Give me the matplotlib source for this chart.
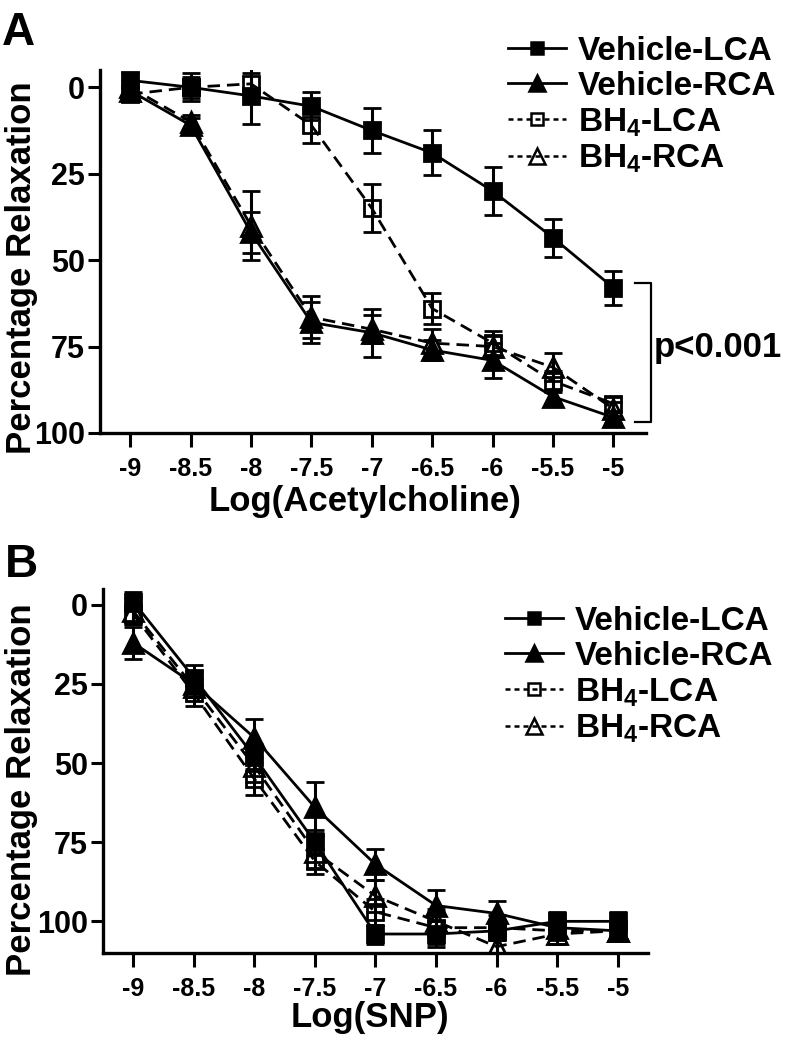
import matplotlib
matplotlib.use("Agg")
import matplotlib.pyplot as plt
from matplotlib.lines import Line2D

plt.rcParams["font.family"] = ["Liberation Sans", "DejaVu Sans"]
plt.rcParams["font.weight"] = "bold"
plt.rcParams["mathtext.fontset"] = "custom"
plt.rcParams["mathtext.rm"] = "Liberation Sans:bold"
plt.rcParams["mathtext.bf"] = "Liberation Sans:bold"

# log concentration
log_conc = [-9, -8.5, -8, -7.5, -7, -6.5, -6, -5.5, -5]

# panel A: acetylcholine (mean, SEM)
ach_veh_lca = [-2, 0, 2.5, 5.5, 12.5, 19, 30, 43.5, 58]
ach_veh_lca_err = [2, 3, 8, 4, 6.5, 6.5, 7, 5.5, 5]
ach_veh_rca = [1, 11, 42, 68, 71, 76, 79, 89.5, 95.5]
ach_veh_rca_err = [2, 2, 6, 6, 7, 3, 5, 2, 1.5]
ach_bh4_lca = [2, 0, -1, 11, 35, 64, 74, 85, 91.5]
ach_bh4_lca_err = [2, 4, 3, 5, 7, 4.5, 3.5, 3, 2]
ach_bh4_rca = [0, 10, 40, 66.5, 70, 74, 75, 81, 93]
ach_bh4_rca_err = [2, 2, 10, 6, 4, 4, 3, 4, 2]

# panel B: SNP
snp_veh_lca = [-1, 23, 48, 75, 104, 104, 103, 100, 100]
snp_veh_lca_err = [3, 4, 4, 4, 3, 4, 3, 3, 3]
snp_veh_rca = [12, 25, 42, 64, 82, 95, 97.5, 102, 103]
snp_veh_rca_err = [5, 4, 6, 8, 5, 5, 4, 4, 3]
snp_bh4_lca = [3, 28, 55, 81, 97, 102, 102, 103, 103]
snp_bh4_lca_err = [3, 4, 5, 4, 4, 5, 4, 4, 3]
snp_bh4_rca = [2, 26, 51, 78, 92, 100, 108, 104, 103]
snp_bh4_rca_err = [4, 3, 5, 5, 5, 4, 3, 3, 3]

labels = ["Vehicle-LCA", "Vehicle-RCA", r"BH$_4$-LCA", r"BH$_4$-RCA"]
styles = [
    dict(marker="s", ms=11, mfc="black", ls="-"),
    dict(marker="^", ms=14, mfc="black", ls="-"),
    dict(marker="s", ms=11, mfc="none", ls=(0, (4.5, 2.5))),
    dict(marker="^", ms=14, mfc="none", ls=(0, (4.5, 2.5))),
]
leg_styles = [
    dict(marker="s", ms=9, mfc="black", ls="-", lw=2.0),
    dict(marker="^", ms=12, mfc="black", ls="-", lw=2.0),
    dict(marker="s", ms=9, mfc="none", ls=(0, (2, 1.6)), lw=1.8),
    dict(marker="^", ms=12, mfc="none", ls=(0, (2, 1.6)), lw=1.8),
]

W, H = 787, 1050
fig = plt.figure(figsize=(W / 100, H / 100), dpi=100)


def draw_panel(ax, series, yticks, ylim, xlim):
    for (y, e), lab, st in zip(series, labels, styles):
        ax.errorbar(log_conc, y, yerr=e, color="black", lw=2.0,
                    elinewidth=2.2, capsize=6.5, capthick=2.2,
                    mec="black", mew=2.0, label=lab, **st)
    ax.set_xlim(*xlim)
    ax.set_ylim(*ylim)
    ax.set_xticks(log_conc)
    ax.set_xticklabels([f"{v:g}" for v in log_conc], fontsize=18, fontweight="bold")
    ax.set_yticks(yticks)
    ax.set_yticklabels([str(v) for v in yticks], fontsize=22, fontweight="bold")
    for s in ["top", "right"]:
        ax.spines[s].set_visible(False)
    for s in ["left", "bottom"]:
        ax.spines[s].set_linewidth(2.4)
    ax.tick_params(axis="x", length=10, width=2.2, pad=7)
    ax.tick_params(axis="y", length=9, width=2.2, pad=2)


axA = fig.add_axes([100 / W, 1 - 433 / H, 546 / W, 363 / H])
serA = [(ach_veh_lca, ach_veh_lca_err), (ach_veh_rca, ach_veh_rca_err),
        (ach_bh4_lca, ach_bh4_lca_err), (ach_bh4_rca, ach_bh4_rca_err)]
draw_panel(axA, serA, [0, 25, 50, 75, 100], (100, -5), (-9.25, -4.73))

# significance bracket
axA.plot([-4.82, -4.69, -4.69, -4.82], [56.6, 56.6, 96.8, 96.8],
         color="black", lw=1.6, clip_on=False)
axA.text(-4.665, 75.4, "p<0.001", fontsize=25, fontweight="bold",
         ha="left", va="center", clip_on=False)

axB = fig.add_axes([103 / W, 1 - 953 / H, 545 / W, 364 / H])
serB = [(snp_veh_lca, snp_veh_lca_err), (snp_veh_rca, snp_veh_rca_err),
        (snp_bh4_lca, snp_bh4_lca_err), (snp_bh4_rca, snp_bh4_rca_err)]
draw_panel(axB, serB, [0, 25, 50, 75, 100], (110, -5), (-9.25, -4.75))

proxies = [Line2D([], [], color="black", mec="black", mew=1.8, **st)
           for st in leg_styles]
for lx, ly in [(508, 36), (505, 606)]:
    leg = fig.legend(proxies, labels, loc="upper left",
                     bbox_to_anchor=(lx / W, 1 - ly / H),
                     frameon=False, fontsize=24, handlelength=1.75,
                     handletextpad=0.35, labelspacing=0.12, borderpad=0,
                     borderaxespad=0)
    for t in leg.get_texts():
        t.set_fontweight("bold")

# axis labels
fig.text(22 / W, 1 - 268 / H, "Percentage Relaxation", rotation=90,
         fontsize=25, fontweight="bold", ha="center", va="center")
fig.text(22 / W, 1 - 790 / H, "Percentage Relaxation", rotation=90,
         fontsize=25, fontweight="bold", ha="center", va="center")
fig.text(365 / W, 1 - 502 / H, "Log(Acetylcholine)", fontsize=25,
         fontweight="bold", ha="center", va="center")
fig.text(370 / W, 1 - 1018 / H, "Log(SNP)", fontsize=25,
         fontweight="bold", ha="center", va="center")

# panel letters
fig.text(2 / W, 1 - 45 / H, "A", fontsize=33, fontweight="bold", va="baseline")
fig.text(5 / W, 1 - 577 / H, "B", fontsize=33, fontweight="bold", va="baseline")

fig.savefig("out.png", dpi=100)
